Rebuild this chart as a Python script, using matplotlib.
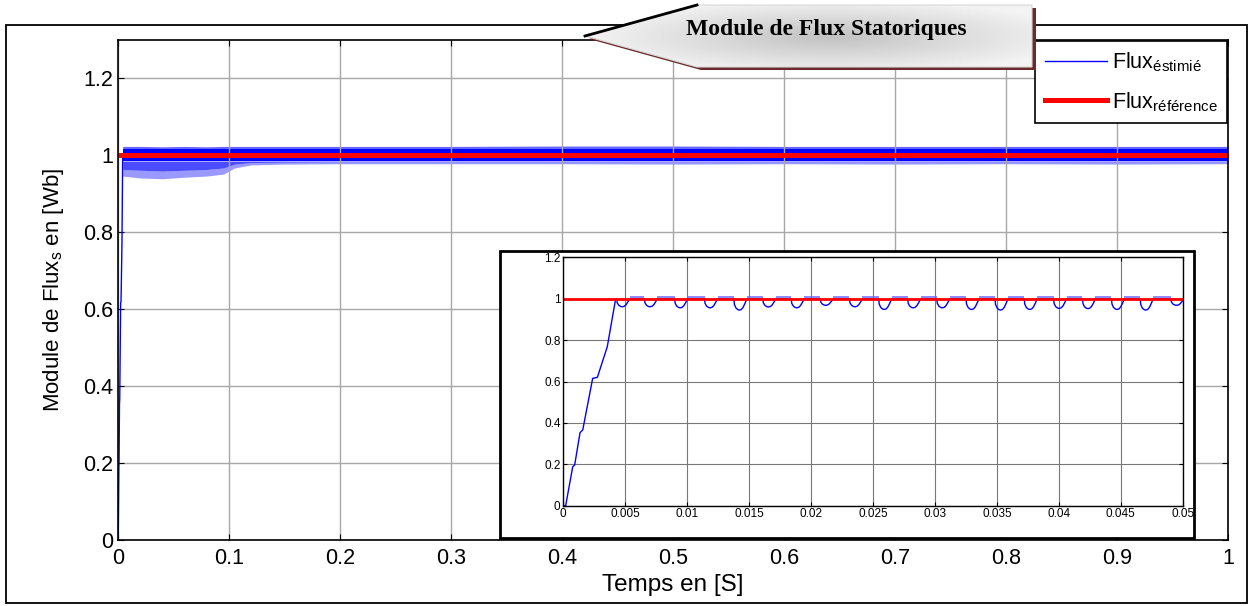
import numpy as np
import matplotlib
matplotlib.use('Agg')
import matplotlib.pyplot as plt
from matplotlib.patches import Polygon, Rectangle
from matplotlib.lines import Line2D

plt.rcParams['font.family'] = ['Liberation Sans', 'DejaVu Sans']
plt.rcParams['mathtext.fontset'] = 'custom'
plt.rcParams['mathtext.rm'] = 'Liberation Sans'
plt.rcParams['mathtext.it'] = 'Liberation Sans:italic'

# reference flux (Wb)
flux_ref = 1.0

# start-up of the estimated stator flux
ramp_t = [0.0, 0.00019, 0.00076, 0.00092, 0.00135, 0.00157, 0.00237, 0.00275, 0.00355, 0.00422]
ramp_v = [0.0, 0.0, 0.188, 0.197, 0.353, 0.366, 0.615, 0.620, 0.768, 0.997]

# hysteresis dips in steady state: time of the minimum and minimum value
dip_t = [0.00476, 0.00700, 0.00944, 0.01185, 0.01422, 0.01656, 0.01885, 0.02119,
         0.02355, 0.02591, 0.02825, 0.03060, 0.03296, 0.03530, 0.03766, 0.04003,
         0.04236, 0.04470, 0.04702, 0.04950]
dip_v = [0.961, 0.961, 0.956, 0.956, 0.945, 0.960, 0.956, 0.968,
         0.961, 0.948, 0.956, 0.956, 0.948, 0.945, 0.948, 0.953,
         0.952, 0.948, 0.945, 0.968]
# shape of one dip (offset from minimum, fraction of the depth)
dip_dt = [-0.00045, -0.00041, -0.00028, -0.00012, 0.0, 0.00015, 0.00030, 0.00045, 0.00060]
dip_fr = [0.0, 0.50, 0.82, 0.97, 1.0, 0.95, 0.75, 0.40, 0.0]
# ripple between two dips
burst_lo, burst_hi = 0.993, 1.012

# envelope of the estimated flux over the whole run
env_t = [0.0043, 0.02, 0.04, 0.06, 0.08, 0.095, 0.105, 0.12, 0.15, 0.2, 0.3,
         0.4, 0.5, 0.6, 0.7, 0.8, 0.9, 1.0]
env_top = [1.022, 1.022, 1.021, 1.022, 1.021, 1.022, 1.022, 1.022, 1.022, 1.022, 1.022,
           1.023, 1.023, 1.022, 1.022, 1.022, 1.022, 1.022]
env_dense_top = [1.015] * len(env_t)
env_dense_bot = [0.984] * len(env_t)
env_mid = [0.962, 0.960, 0.958, 0.960, 0.962, 0.966, 0.976, 0.980, 0.981, 0.982, 0.982,
           0.982, 0.982, 0.982, 0.982, 0.982, 0.982, 0.982]
env_bot = [0.945, 0.940, 0.938, 0.942, 0.945, 0.950, 0.966, 0.974, 0.976, 0.977, 0.977,
           0.977, 0.976, 0.977, 0.976, 0.977, 0.976, 0.977]

x_ticks = [0, 0.1, 0.2, 0.3, 0.4, 0.5, 0.6, 0.7, 0.8, 0.9, 1.0]
x_labels = ['0', '0.1', '0.2', '0.3', '0.4', '0.5', '0.6', '0.7', '0.8', '0.9', '1']
y_ticks = [0, 0.2, 0.4, 0.6, 0.8, 1.0, 1.2]
y_labels = ['0', '0.2', '0.4', '0.6', '0.8', '1', '1.2']
zx_ticks = [0, 0.005, 0.01, 0.015, 0.02, 0.025, 0.03, 0.035, 0.04, 0.045, 0.05]
zx_labels = ['0', '0.005', '0.01', '0.015', '0.02', '0.025', '0.03', '0.035', '0.04', '0.045', '0.05']

W, H = 1250, 606
fig = plt.figure(figsize=(W / 100, H / 100), dpi=100)

# ---- main axes
ax = fig.add_axes([118 / W, 1 - 539.5 / H, 1110 / W, 500 / H], zorder=0)
ax.fill_between(env_t, env_bot, env_mid, color='#0000ff', alpha=0.4, lw=0)
ax.fill_between(env_t, env_mid, env_dense_bot, color='#0000ff', alpha=0.7, lw=0)
ax.fill_between(env_t, env_dense_bot, env_dense_top, color='#0000ff', lw=0)
ax.fill_between(env_t, env_dense_top, env_top, color='#0000ff', alpha=0.6, lw=0)
ax.plot(ramp_t, ramp_v, color='#0000ff', lw=1)
ax.plot([0, 1], [flux_ref, flux_ref], color='#ff0000', lw=3.6)

ax.set_xlim(0, 1)
ax.set_ylim(0, 1.3)
ax.set_xticks(x_ticks, x_labels)
ax.set_yticks(y_ticks, y_labels)
ax.tick_params(direction='in', top=True, right=True, labelsize=15.5, length=4)
ax.tick_params(axis='x', pad=6)
ax.grid(True, color='#a8a8a8', lw=1)
for s in ax.spines.values():
    s.set_linewidth(1.2)
ax.set_xlabel('Temps en [S]', fontsize=17.5, labelpad=4)
ax.set_ylabel(r'Module de Flux$_\mathrm{s}$ en [Wb]', fontsize=16, labelpad=12)

handles = [Line2D([], [], color='#0000ff', lw=1), Line2D([], [], color='#ff0000', lw=3.6)]
labels = [r'Flux$_{\mathrm{éstimié}}$', r'Flux$_{\mathrm{référence}}$']
leg = ax.legend(handles, labels, loc='upper right', borderaxespad=0.05, fancybox=False,
                edgecolor='black', framealpha=1, fontsize=15.5, handlelength=2.9,
                handletextpad=0.2, borderpad=0.45, labelspacing=0.75)
leg.get_frame().set_linewidth(1.2)

# ---- zoom on the start-up
fig.add_artist(Rectangle((500 / W, 1 - 538 / H), 694 / W, 287 / H, transform=fig.transFigure,
                         facecolor='white', edgecolor='black', lw=2, zorder=1.5))
axz = fig.add_axes([563.3 / W, 1 - 505.7 / H, 619.4 / W, 248.4 / H], zorder=2)

zt = list(ramp_t)
zv = list(ramp_v)
for t0, v0 in zip(dip_t, dip_v):
    for dt, fr in zip(dip_dt, dip_fr):
        zt.append(t0 + dt)
        zv.append(flux_ref - fr * (flux_ref - v0))
for a, b in zip(dip_t[:-1], dip_t[1:]):
    axz.fill_between([a + dip_dt[-1], b + dip_dt[0]], burst_lo, burst_hi,
                     color='#0000ff', alpha=0.45, lw=0)
axz.plot(zt, zv, color='#0000ff', lw=1)
axz.plot([0, 0.05], [flux_ref, flux_ref], color='#ff0000', lw=2)

axz.set_xlim(0, 0.05)
axz.set_ylim(0, 1.2)
axz.set_xticks(zx_ticks, zx_labels)
axz.set_yticks(y_ticks, y_labels)
axz.tick_params(direction='in', top=True, right=True, labelsize=8.5, length=3, pad=2)
axz.grid(True, color='#787878', lw=0.8)
for s in axz.spines.values():
    s.set_linewidth(1)

# ---- frame and title callout
ov = fig.add_axes([0, 0, 1, 1], zorder=3)
ov.set_xlim(0, W)
ov.set_ylim(H, 0)
ov.axis('off')
ov.patch.set_alpha(0)
ov.add_patch(Rectangle((6, 25), 1241, 578, fill=False, edgecolor='black', lw=1.3))

callout = [(585, 36), (697, 5), (1032, 5), (1032, 67), (697, 67)]
shadow = [(x + 4, y + 3) for x, y in callout]
ov.add_patch(Polygon(shadow, closed=True, facecolor='#6b2b2b', edgecolor='none', zorder=2))
body = Polygon(callout, closed=True, facecolor='none', edgecolor='#d8d8d8', lw=0.8, zorder=4)
ov.add_patch(body)
gx, gy = np.meshgrid(np.linspace(585, 1032, 300), np.linspace(5, 67, 60))
shade = np.clip(np.hypot((gx - 830) / 240, (gy - 37) / 38), 0, 1)
img = ov.imshow(0.76 + 0.19 * shade, cmap='gray', vmin=0, vmax=1, extent=(585, 1032, 67, 5),
                aspect='auto', zorder=3, interpolation='bilinear')
img.set_clip_path(body)
ov.plot([585, 697], [36, 5], color='black', lw=2, zorder=5)
ov.set_xlim(0, W)
ov.set_ylim(H, 0)
ov.text(826, 29, 'Module de Flux Statoriques', family='Liberation Serif', weight='bold',
        fontsize=17, ha='center', va='center', zorder=6)

fig.savefig('out.png', dpi=100)
